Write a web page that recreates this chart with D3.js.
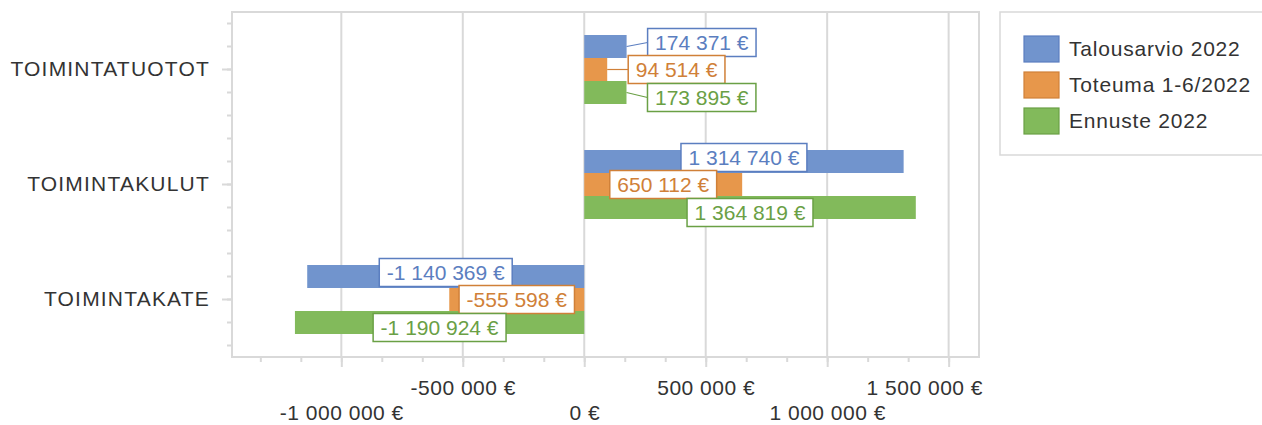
<!DOCTYPE html>
<meta charset="utf-8">
<script src="https://d3js.org/d3.v7.min.js"></script>
<style>
  body { margin: 0; background: #fff; }
  text { font-family: "Liberation Sans", Arial, sans-serif; }
</style>
<div id="chart"></div>
<script>

// categories and series
const categories = ["TOIMINTATUOTOT", "TOIMINTAKULUT", "TOIMINTAKATE"];
const seriesNames = ["Talousarvio 2022", "Toteuma 1-6/2022", "Ennuste 2022"];
const talousarvio = [174371, 1314740, -1140369];
const toteuma = [94514, 650112, -555598];
const ennuste = [173895, 1364819, -1190924];
const xTicks = [-1000000, -500000, 0, 500000, 1000000, 1500000];

const seriesValues = [talousarvio, toteuma, ennuste];
const fills = ["#7194cd", "#e7974b", "#82ba5b"];
const strokes = ["#5b7ec0", "#d08038", "#6aa045"];
const labelShift = [-4, 0, 5];

const W = 1262, H = 425;
const plot = {left: 232, right: 979, top: 12, bottom: 357};

const fi = d3.formatLocale({decimal: ",", thousands: " ", grouping: [3], currency: ["", " €"], minus: "-"});
const fmt = v => fi.format(",")(v) + " €";

const svg = d3.select("#chart").append("svg")
  .attr("width", W).attr("height", H);

const x = d3.scaleLinear()
  .domain([-1450000, 1625000])
  .range([plot.left, plot.right]);

const y = d3.scaleBand()
  .domain(categories)
  .range([plot.top, plot.bottom])
  .paddingInner(0.4)
  .paddingOuter(0.2);

const ySub = d3.scaleBand()
  .domain(d3.range(seriesNames.length))
  .range([0, y.bandwidth()]);

// gridlines
svg.append("g").selectAll("line")
  .data(xTicks)
  .join("line")
    .attr("x1", d => x(d)).attr("x2", d => x(d))
    .attr("y1", plot.top).attr("y2", plot.bottom)
    .attr("stroke", "#d9d9d9").attr("stroke-width", 2);

// plot frame
svg.append("rect")
  .attr("x", plot.left).attr("y", plot.top)
  .attr("width", plot.right - plot.left).attr("height", plot.bottom - plot.top)
  .attr("fill", "none").attr("stroke", "#d9d9d9").attr("stroke-width", 2);

// x axis: minor ticks
const step = 500000 / 3;
const minor = d3.range(Math.ceil(x.domain()[0] / step), Math.floor(x.domain()[1] / step) + 1).map(k => k * step);
svg.append("g")
  .attr("transform", `translate(0,${plot.bottom})`)
  .call(d3.axisBottom(x).tickValues(minor).tickSize(5).tickFormat(""))
  .call(g => g.select(".domain").remove())
  .call(g => g.selectAll("line").attr("stroke", "#d9d9d9").attr("stroke-width", 2));

// x axis: major ticks + staggered labels
svg.append("g")
  .attr("transform", `translate(0,${plot.bottom})`)
  .call(d3.axisBottom(x).tickValues(xTicks).tickSize(10).tickFormat(fmt))
  .call(g => g.select(".domain").remove())
  .call(g => g.selectAll("line").attr("stroke", "#d9d9d9").attr("stroke-width", 2))
  .call(g => g.selectAll("text")
    .attr("y", (d, i) => i % 2 ? 31 : 56)
    .attr("dy", "0.35em")
    .attr("fill", "#333")
    .style("font-size", "21px")
    .style("letter-spacing", "0.5px"))
  .call(g => g.selectAll("text").each(function() {
    // keep the last label inside the chart edge
    const b = this.getBBox();
    const tx = +d3.select(this.parentNode).attr("transform").match(/translate\(([-\d.]+)/)[1];
    const over = tx + b.x + b.width - (plot.right + 4);
    if (over > 0) d3.select(this).attr("x", -over);
  }));

// y axis: minor ticks (5 per category band)
const yMinor = [];
categories.forEach(c => {
  for (let k = 0; k < 5; k++) yMinor.push(y(c) - y.step() * y.paddingInner() / 2 + (k + 0.5) * y.step() / 5);
});
svg.append("g").selectAll("line")
  .data(yMinor)
  .join("line")
    .attr("x1", plot.left - 5).attr("x2", plot.left)
    .attr("y1", d => d).attr("y2", d => d)
    .attr("stroke", "#d9d9d9").attr("stroke-width", 2);

// y axis: category ticks and labels
svg.append("g")
  .attr("transform", `translate(${plot.left},0)`)
  .call(d3.axisLeft(y).tickSize(10).tickPadding(12))
  .call(g => g.select(".domain").remove())
  .call(g => g.selectAll("line").attr("stroke", "#d9d9d9").attr("stroke-width", 2))
  .call(g => g.selectAll("text").attr("fill", "#333")
    .style("font-size", "21px").style("letter-spacing", "1.2px"));

// bars
const rows = [];
categories.forEach((c, ci) => {
  seriesValues.forEach((vals, si) => rows.push({cat: c, s: si, v: vals[ci]}));
});

svg.append("g").selectAll("rect")
  .data(rows)
  .join("rect")
    .attr("x", d => x(Math.min(0, d.v)))
    .attr("y", d => y(d.cat) + ySub(d.s))
    .attr("width", d => Math.abs(x(d.v) - x(0)))
    .attr("height", ySub.bandwidth())
    .attr("fill", d => fills[d.s]);

// data labels
const lab = svg.append("g");
rows.forEach(d => {
  const cy = y(d.cat) + ySub(d.s) + ySub.bandwidth() / 2;
  const g = lab.append("g");
  const t = g.append("text")
    .text(fmt(d.v))
    .attr("text-anchor", "middle")
    .attr("dy", "0.35em")
    .attr("fill", strokes[d.s])
    .style("font-size", "21px");
  const tw = t.node().getComputedTextLength();
  const bw = tw + 15, bh = 28;
  const barW = Math.abs(x(d.v) - x(0));
  let cx, by = cy + labelShift[d.s];
  if (barW < bw) {
    const bx = x(d.v) + 21;
    cx = bx + bw / 2;
    lab.insert("line", ":first-child")
      .attr("x1", x(d.v)).attr("y1", cy)
      .attr("x2", bx).attr("y2", by)
      .attr("stroke", strokes[d.s]).attr("stroke-width", 1.2);
  } else {
    cx = (x(d.v) + x(0)) / 2;
  }
  g.attr("transform", `translate(${cx},${by})`);
  g.insert("rect", "text")
    .attr("x", -bw / 2).attr("y", -bh / 2)
    .attr("width", bw).attr("height", bh)
    .attr("fill", "#fff")
    .attr("stroke", strokes[d.s]).attr("stroke-width", 1.5);
});

// legend (box runs past the right edge, as in the original)
const lg = svg.append("g");
lg.append("rect")
  .attr("x", 1000).attr("y", 12).attr("width", 280).attr("height", 143)
  .attr("fill", "#fff").attr("stroke", "#d9d9d9").attr("stroke-width", 1.5);
seriesNames.forEach((n, i) => {
  lg.append("rect")
    .attr("x", 1024).attr("y", 36 + i * 36)
    .attr("width", 35).attr("height", 26)
    .attr("fill", fills[i]).attr("stroke", strokes[i]).attr("stroke-width", 1.2);
  lg.append("text")
    .attr("x", 1069).attr("y", 49 + i * 36)
    .attr("dy", "0.35em")
    .attr("fill", "#333")
    .style("font-size", "21px")
    .style("letter-spacing", "0.8px")
    .text(n);
});

</script>
